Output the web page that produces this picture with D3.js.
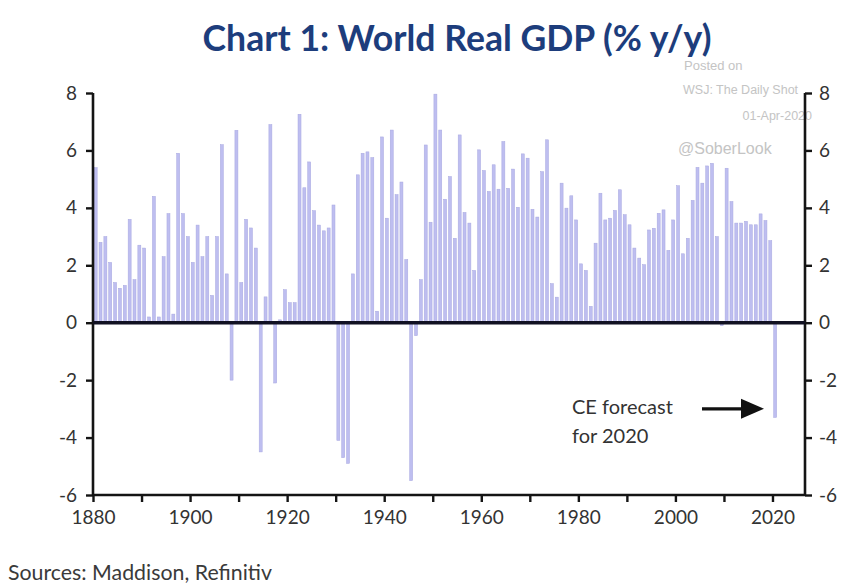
<!DOCTYPE html>
<html>
<head>
<meta charset="utf-8">
<script src="https://cdn.jsdelivr.net/npm/d3@7"></script>
<style>
  html, body { margin: 0; padding: 0; background: #ffffff; }
  svg { display: block; }
</style>
</head>
<body>
<svg id="chart" width="854" height="588"></svg>
<script>
// ---------------- DATA ----------------
const years = [
  1880,1881,1882,1883,1884,1885,1886,1887,1888,1889,
  1890,1891,1892,1893,1894,1895,1896,1897,1898,1899,
  1900,1901,1902,1903,1904,1905,1906,1907,1908,1909,
  1910,1911,1912,1913,1914,1915,1916,1917,1918,1919,
  1920,1921,1922,1923,1924,1925,1926,1927,1928,1929,
  1930,1931,1932,1933,1934,1935,1936,1937,1938,1939,
  1940,1941,1942,1943,1944,1945,1946,1947,1948,1949,
  1950,1951,1952,1953,1954,1955,1956,1957,1958,1959,
  1960,1961,1962,1963,1964,1965,1966,1967,1968,1969,
  1970,1971,1972,1973,1974,1975,1976,1977,1978,1979,
  1980,1981,1982,1983,1984,1985,1986,1987,1988,1989,
  1990,1991,1992,1993,1994,1995,1996,1997,1998,1999,
  2000,2001,2002,2003,2004,2005,2006,2007,2008,2009,
  2010,2011,2012,2013,2014,2015,2016,2017,2018,2019,
  2020
];
const gdpGrowth = [
  5.4, 2.8, 3.0, 2.1, 1.4, 1.2, 1.3, 3.6, 1.5, 2.7,
  2.6, 0.2, 4.4, 0.2, 2.3, 3.8, 0.3, 5.9, 3.8, 3.0,
  2.1, 3.4, 2.3, 3.0, 0.95, 3.0, 6.2, 1.7, -2.0, 6.7,
  1.4, 3.6, 3.3, 2.6, -4.5, 0.9, 6.9, -2.1, 0.1, 1.15,
  0.7, 0.7, 7.26, 4.7, 5.6, 3.9, 3.4, 3.2, 3.3, 4.1,
  -4.1, -4.7, -4.9, 1.7, 5.15, 5.9, 5.95, 5.75, 0.4, 6.47,
  3.64, 6.71, 4.46, 4.9, 2.2, -5.5, -0.45, 1.5, 6.19, 3.5,
  7.96, 6.71, 4.3, 5.09, 2.94, 6.54, 3.84, 3.47, 1.82, 6.02,
  5.3, 4.57, 5.5, 4.65, 6.31, 4.68, 5.35, 4.02, 5.88, 5.73,
  3.95, 3.68, 5.26, 6.37, 1.36, 0.89, 4.86, 3.99, 4.42, 3.58,
  2.05, 1.82, 0.57, 2.77, 4.51, 3.58, 3.64, 3.91, 4.63, 3.76,
  3.41, 2.6, 2.25, 2.02, 3.23, 3.29, 3.81, 3.93, 2.52, 3.58,
  4.77, 2.4, 2.94, 4.26, 5.41, 4.86, 5.46, 5.55, 3.0, -0.1,
  5.38, 4.22, 3.47, 3.47, 3.53, 3.41, 3.41, 3.79, 3.56, 2.86,
  -3.3
];
const xTickLabels = [1880, 1900, 1920, 1940, 1960, 1980, 2000, 2020];
const xMinorTicks = [1880,1890,1900,1910,1920,1930,1940,1950,1960,1970,1980,1990,2000,2010,2020];
const yTickValues = [-6, -4, -2, 0, 2, 4, 6, 8];
const titleText = "Chart 1: World Real GDP (% y/y)";
const sourceText = "Sources: Maddison, Refinitiv";
const annotationLines = ["CE forecast", "for 2020"];
const watermarkLines = ["Posted on", "WSJ: The Daily Shot", "01-Apr-2020", "@SoberLook"];

// ---------------- LAYOUT ----------------
const svg = d3.select("#chart");
const plotLeft = 93, plotRight = 805, plotTop = 93, plotBottom = 495;
const fontMain = "Lato, 'Open Sans', sans-serif";

const x = d3.scaleLinear().domain([1880, 2026.7]).range([plotLeft, plotRight]);
const y = d3.scaleLinear().domain([-6, 8]).range([plotBottom, plotTop]);

const data = years.map((yr, i) => ({ year: yr, value: gdpGrowth[i] }));

// ---------------- TITLE ----------------
const title = svg.append("text")
  .attr("x", 457).attr("y", 51)
  .attr("text-anchor", "middle")
  .attr("font-family", fontMain)
  .attr("font-weight", "bold")
  .attr("font-size", 31)
  .attr("fill", "#1d3d7c")
  .text(titleText);
{
  const w = title.node().getComputedTextLength();
  if (w > 0) title.attr("font-size", 31 * 509 / w);
}

// ---------------- WATERMARK ----------------
const wm = svg.append("g").attr("fill", "#c4c4c4").attr("font-family", "Arial, 'Liberation Sans', sans-serif");
wm.append("text").attr("x", 684).attr("y", 70).attr("font-size", 13).text(watermarkLines[0]);
wm.append("text").attr("x", 683).attr("y", 94).attr("font-size", 12.5).text(watermarkLines[1]);
wm.append("text").attr("x", 812).attr("y", 120).attr("text-anchor", "end").attr("font-size", 12.5).text(watermarkLines[2]);
wm.append("text").attr("x", 678).attr("y", 154).attr("font-size", 16).text(watermarkLines[3]);

// ---------------- BARS ----------------
const barW = 3.0;
svg.append("g")
  .selectAll("rect")
  .data(data)
  .join("rect")
  .attr("x", d => x(d.year + 0.55) - barW / 2)
  .attr("width", barW)
  .attr("y", d => Math.min(y(d.value), y(0)))
  .attr("height", d => Math.abs(y(d.value) - y(0)))
  .attr("fill", "#bebef0")
  .attr("stroke", "#a8a8e0")
  .attr("stroke-width", 0.5);

// ---------------- AXES ----------------
const axisColor = "#141414";
const labelColor = "#333333";
const fmt = d => String(d);

const yLeft = svg.append("g").attr("transform", `translate(${plotLeft},0)`)
  .call(d3.axisLeft(y).tickValues(yTickValues).tickSize(7).tickPadding(9).tickFormat(fmt));
const yRight = svg.append("g").attr("transform", `translate(${plotRight},0)`)
  .call(d3.axisRight(y).tickValues(yTickValues).tickSize(7).tickPadding(7).tickFormat(fmt));
const xAxis = svg.append("g").attr("transform", `translate(0,${plotBottom})`)
  .call(d3.axisBottom(x).tickValues(xMinorTicks).tickSize(7).tickPadding(5)
    .tickFormat(d => xTickLabels.includes(d) ? String(d) : ""));

[yLeft, yRight, xAxis].forEach(g => {
  g.select(".domain").attr("stroke", axisColor).attr("stroke-width", 2.6);
  g.selectAll(".tick line").attr("stroke", axisColor).attr("stroke-width", 2.4);
  g.selectAll(".tick text")
    .attr("fill", labelColor)
    .attr("font-family", fontMain)
    .attr("font-size", 19);
});
xAxis.select(".domain").attr("d", `M${plotLeft},0H${plotRight}`);
yLeft.select(".domain").attr("d", `M0,${plotTop}V${plotBottom}`);
yRight.select(".domain").attr("d", `M0,${plotTop}V${plotBottom}`);
xAxis.selectAll(".tick text").attr("dy", "0.9em");

// Zero line
svg.append("line")
  .attr("x1", plotLeft).attr("x2", plotRight)
  .attr("y1", y(0)).attr("y2", y(0))
  .attr("stroke", "#111122").attr("stroke-width", 3.4);

// ---------------- ANNOTATION ----------------
const ann = svg.append("g").attr("font-family", fontMain).attr("font-size", 20).attr("fill", "#333333");
ann.append("text").attr("x", 572).attr("y", 414).text(annotationLines[0]);
ann.append("text").attr("x", 572).attr("y", 443).text(annotationLines[1]);

const arrowY = y(-3.0);
svg.append("line")
  .attr("x1", 702).attr("x2", 745)
  .attr("y1", arrowY).attr("y2", arrowY)
  .attr("stroke", "#111").attr("stroke-width", 3.2);
svg.append("path")
  .attr("d", `M741,${arrowY - 10}L764,${arrowY}L741,${arrowY + 10}Z`)
  .attr("fill", "#111");

// ---------------- SOURCE ----------------
const src = svg.append("text")
  .attr("x", 8).attr("y", 580)
  .attr("font-family", fontMain)
  .attr("font-size", 21)
  .attr("fill", "#3a3a3a")
  .text(sourceText);
{
  const w = src.node().getComputedTextLength();
  if (w > 0) src.attr("font-size", 21 * 264 / w);
}
</script>
</body>
</html>
